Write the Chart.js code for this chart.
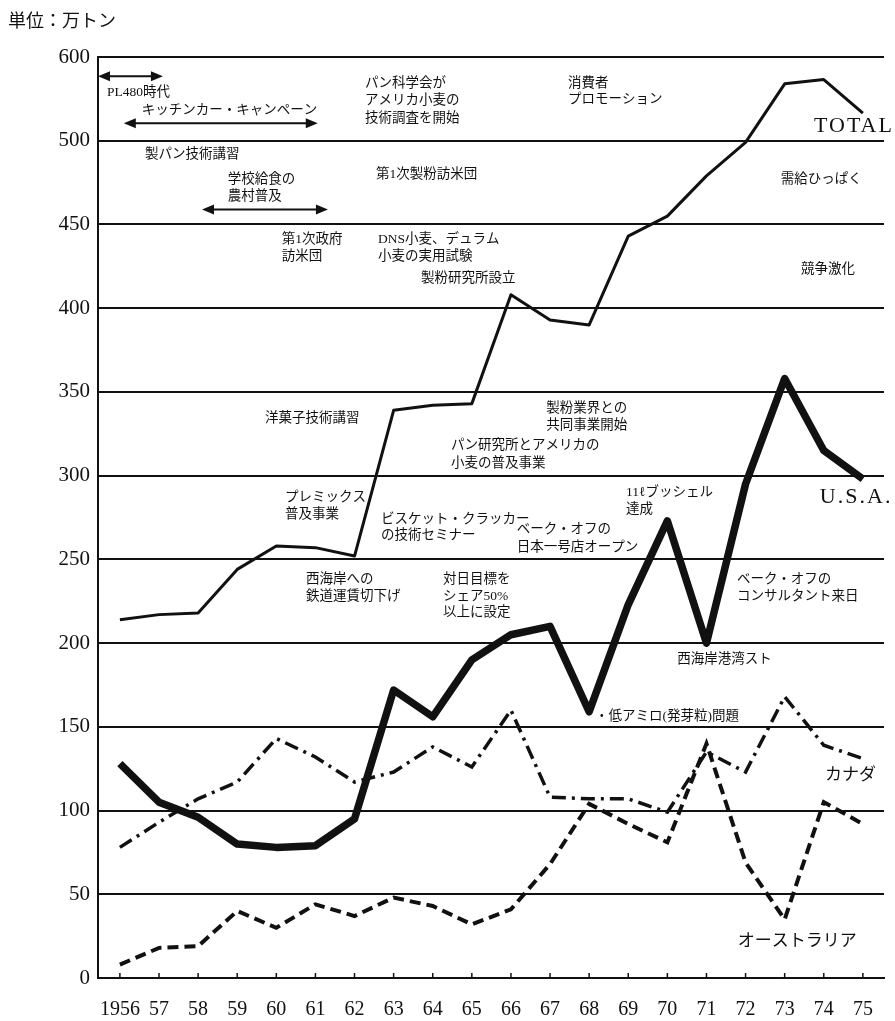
<!DOCTYPE html>
<html>
<head>
<meta charset="utf-8">
<script src="https://cdn.jsdelivr.net/npm/chart.js@4.4.1/dist/chart.umd.min.js"></script>
<style>
  body { margin: 0; background: #fff; }
  canvas { display: block; }
</style>
</head>
<body>
<canvas id="myChart" width="895" height="1021"></canvas>
<script>
// Years 1956-1975, values in 万トン
const years = [1956, 1957, 1958, 1959, 1960, 1961, 1962, 1963, 1964, 1965,
               1966, 1967, 1968, 1969, 1970, 1971, 1972, 1973, 1974, 1975];
const yearLabels = ['1956', '57', '58', '59', '60', '61', '62', '63', '64', '65',
                    '66', '67', '68', '69', '70', '71', '72', '73', '74', '75'];

const totalValues     = [214, 217, 218, 244, 258, 257, 252, 339, 342, 343, 408, 393, 390, 443, 455, 479, 499, 568, 573, 533];
const usaValues       = [128, 105, 96, 80, 78, 79, 95, 172, 156, 190, 205, 210, 159, 223, 273, 200, 295, 358, 315, 298];
const canadaValues    = [78, 93, 107, 117, 143, 132, 117, 123, 138, 126, 160, 108, 107, 107, 99, 135, 123, 168, 139, 131];
const australiaValues = [8, 18, 19, 40, 30, 44, 37, 48, 43, 32, 41, 68, 104, 92, 81, 140, 69, 35, 105, 92];

// y axis: 0-500 every 50, then a jump to 600 at the top
const yTicks = [0, 50, 100, 150, 200, 250, 300, 350, 400, 450, 500, 600];

// annotations: [year, value, text]
const notes = [
    [1955.67, 558, 'PL480時代'],
    [1956.56, 536, 'キッチンカー・キャンペーン'],
    [1956.64, 492, '製パン技術講習'],
    [1958.76, 477, '学校給食の'],
    [1958.76, 467, '農村普及'],
    [1962.27, 569, 'パン科学会が'],
    [1962.27, 548, 'アメリカ小麦の'],
    [1962.27, 527, '技術調査を開始'],
    [1967.46, 569, '消費者'],
    [1967.46, 549, 'プロモーション'],
    [1962.55, 480, '第1次製粉訪米団'],
    [1960.14, 441, '第1次政府'],
    [1960.14, 431, '訪米団'],
    [1962.6, 441, 'DNS小麦、デュラム'],
    [1962.6, 431, '小麦の実用試験'],
    [1963.7, 418, '製粉研究所設立'],
    [1972.9, 477, '需給ひっぱく'],
    [1973.42, 423, '競争激化'],
    [1959.71, 334, '洋菓子技術講習'],
    [1966.9, 340, '製粉業界との'],
    [1966.9, 330, '共同事業開始'],
    [1964.47, 318, 'パン研究所とアメリカの'],
    [1964.47, 307, '小麦の普及事業'],
    [1968.94, 290, '11ℓブッシェル'],
    [1968.94, 280, '達成'],
    [1960.22, 287, 'プレミックス'],
    [1960.22, 277, '普及事業'],
    [1962.68, 274, 'ビスケット・クラッカー'],
    [1962.68, 264, 'の技術セミナー'],
    [1966.15, 268, 'ベーク・オフの'],
    [1966.15, 257, '日本一号店オープン'],
    [1960.76, 238, '西海岸への'],
    [1960.76, 228, '鉄道運賃切下げ'],
    [1964.26, 238, '対日目標を'],
    [1964.26, 228, 'シェア50%'],
    [1964.26, 218, '以上に設定'],
    [1971.78, 238, 'ベーク・オフの'],
    [1971.78, 228, 'コンサルタント来日'],
    [1970.25, 190, '西海岸港湾スト'],
    [1968.15, 156, '・低アミロ(発芽粒)問題']
];

// series labels: [year, value, text]
const serifLabels = [
    [1973.75, 517, 'TOTAL'],
    [1973.9, 287, 'U.S.A.']
];
const kanaLabels = [
    [1974.03, 122, 'カナダ'],
    [1971.8, 23, 'オーストラリア']
];

// period arrows: [fromYear, toYear, value]
const arrows = [
    [1955.44, 1957.1, 577],
    [1956.1, 1961.06, 521],
    [1958.1, 1961.32, 459]
];

// y scale with a break above 500 (500 -> 600 takes one 50-step)
const fold = v => (v <= 500 ? v : 500 + (v - 500) / 2);
class BrokenScale extends Chart.LinearScale {
    buildTicks() {
        return yTicks.map(v => ({ value: v }));
    }
    getPixelForValue(v) {
        return this.getPixelForDecimal(fold(v) / fold(this.max));
    }
    getValueForPixel(p) {
        const u = this.getDecimalForPixel(p) * fold(this.max);
        return u <= 500 ? u : 500 + (u - 500) * 2;
    }
}
BrokenScale.id = 'broken';
BrokenScale.defaults = Chart.LinearScale.defaults;
Chart.register(BrokenScale);

const notesPlugin = {
    id: 'notes',
    afterDatasetsDraw(chart) {
        const { ctx, scales: { x, y } } = chart;
        ctx.save();
        ctx.fillStyle = '#111';
        ctx.textBaseline = 'middle';
        ctx.textAlign = 'left';

        ctx.font = '13.5px "Liberation Serif", "Noto Sans CJK JP"';
        notes.forEach(([yr, v, text]) => {
            ctx.fillText(text, x.getPixelForValue(yr), y.getPixelForValue(v));
        });

        ctx.font = '17px "Noto Sans CJK JP"';
        kanaLabels.forEach(([yr, v, text]) => {
            ctx.fillText(text, x.getPixelForValue(yr), y.getPixelForValue(v));
        });

        ctx.font = '22px "Liberation Serif"';
        ctx.letterSpacing = '2px';
        serifLabels.forEach(([yr, v, text]) => {
            ctx.fillText(text, x.getPixelForValue(yr), y.getPixelForValue(v));
        });
        ctx.letterSpacing = '0px';

        ctx.font = '18px "Noto Sans CJK JP"';
        ctx.fillText('単位：万トン', 8, 20);

        ctx.strokeStyle = '#111';
        ctx.lineWidth = 2;
        arrows.forEach(([a, b, v]) => {
            const x1 = x.getPixelForValue(a);
            const x2 = x.getPixelForValue(b);
            const py = y.getPixelForValue(v);
            ctx.beginPath();
            ctx.moveTo(x1 + 8, py);
            ctx.lineTo(x2 - 8, py);
            ctx.stroke();
            ctx.beginPath();
            ctx.moveTo(x1, py);
            ctx.lineTo(x1 + 12, py - 5);
            ctx.lineTo(x1 + 12, py + 5);
            ctx.closePath();
            ctx.moveTo(x2, py);
            ctx.lineTo(x2 - 12, py - 5);
            ctx.lineTo(x2 - 12, py + 5);
            ctx.closePath();
            ctx.fill();
        });

        // small upward year ticks on the x axis
        ctx.lineWidth = 1.5;
        years.forEach(yr => {
            const px = x.getPixelForValue(yr);
            ctx.beginPath();
            ctx.moveTo(px, chart.chartArea.bottom);
            ctx.lineTo(px, chart.chartArea.bottom - 5);
            ctx.stroke();
        });
        ctx.restore();
    }
};

const toPoints = vals => years.map((yr, i) => ({ x: yr, y: vals[i] }));

const ctx = document.getElementById('myChart').getContext('2d');
const myChart = new Chart(ctx, {
    type: 'line',
    data: {
        datasets: [
            {
                label: 'TOTAL',
                data: toPoints(totalValues),
                borderColor: '#111',
                borderWidth: 3,
                borderJoinStyle: 'round'
            },
            {
                label: 'U.S.A.',
                data: toPoints(usaValues),
                borderColor: '#111',
                borderWidth: 7.5,
                borderJoinStyle: 'round'
            },
            {
                label: 'カナダ',
                data: toPoints(canadaValues),
                borderColor: '#111',
                borderWidth: 3.5,
                borderDash: [14, 6, 3, 6]
            },
            {
                label: 'オーストラリア',
                data: toPoints(australiaValues),
                borderColor: '#111',
                borderWidth: 4,
                borderDash: [11, 6]
            }
        ]
    },
    options: {
        responsive: false,
        animation: false,
        layout: { padding: { top: 57, right: 11, left: 0, bottom: 0 } },
        elements: { point: { radius: 0 }, line: { tension: 0, fill: false } },
        plugins: { legend: { display: false }, tooltip: { enabled: false } },
        scales: {
            x: {
                type: 'linear',
                min: 1955.44,
                max: 1975.54,
                afterBuildTicks: scale => {
                    scale.ticks = years.map(v => ({ value: v }));
                },
                afterFit: scale => { scale.height = 43; },
                grid: { display: false },
                border: { display: true, color: '#111', width: 2 },
                ticks: {
                    autoSkip: false,
                    maxRotation: 0,
                    padding: 12,
                    color: '#111',
                    font: { family: '"Liberation Serif"', size: 20 },
                    callback: (v) => yearLabels[years.indexOf(v)]
                }
            },
            y: {
                type: 'broken',
                min: 0,
                max: 600,
                afterFit: scale => { scale.width = 98; },
                grid: { color: '#111', lineWidth: 2, drawTicks: false },
                border: { display: true, color: '#111', width: 2 },
                ticks: {
                    padding: 8,
                    color: '#111',
                    font: { family: '"Liberation Serif"', size: 21 },
                    callback: v => String(v)
                }
            }
        }
    },
    plugins: [notesPlugin]
});
</script>
</body>
</html>
